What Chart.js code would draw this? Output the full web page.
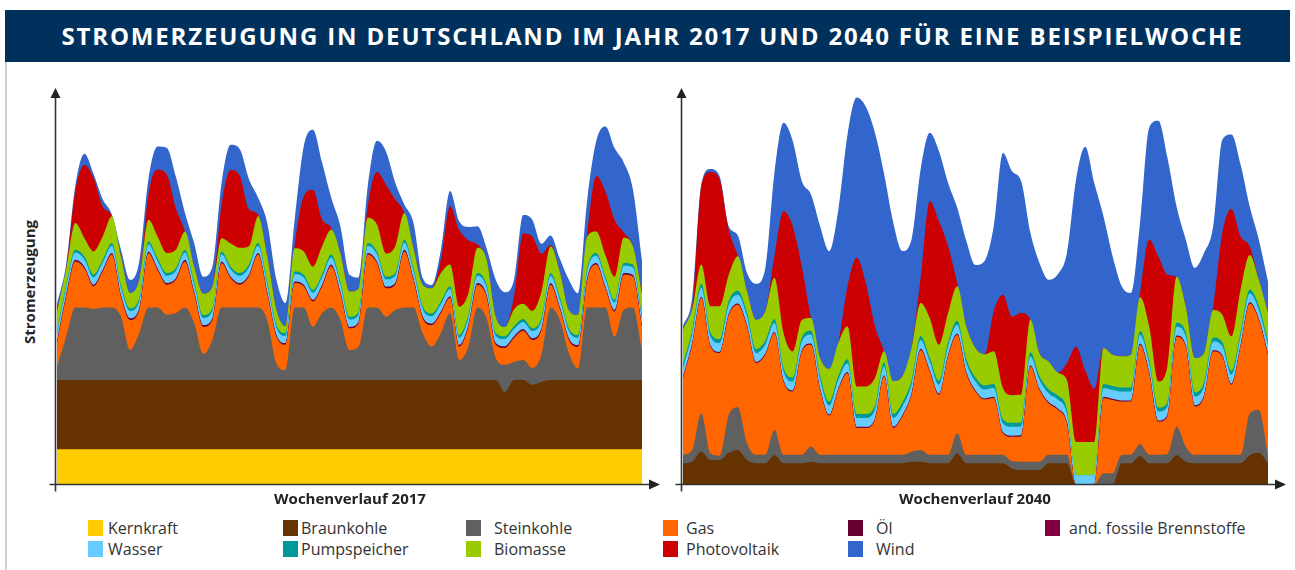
<!DOCTYPE html>
<html lang="de">
<head>
<meta charset="utf-8">
<title>Stromerzeugung in Deutschland 2017 und 2040</title>
<script src="https://cdn.jsdelivr.net/npm/chart.js@4.4.1/dist/chart.umd.min.js"></script>
<style>
  html, body { margin: 0; padding: 0; background: #fff; }
  body { width: 1295px; height: 570px; position: relative; overflow: hidden; font-family: 'Open Sans', sans-serif; }
  #titel { position: absolute; left: 5px; top: 10px; width: 1275px; padding-left: 10px; height: 52px; background: #00315c;
           color: #fff; font-weight: 700; font-size: 24px; letter-spacing: 1.85px; line-height: 52px; text-align: center; }
  #rand { position: absolute; left: 5px; top: 62px; width: 2px; height: 508px; background: #cfcfcf; }
  canvas { position: absolute; }
  #c2017 { left: 40px; top: 80px; }
  #c2040 { left: 666px; top: 80px; }
  .achse { position: absolute; font-weight: 700; font-size: 15px; color: #222; white-space: nowrap; }
  #yTitel { left: 29px; top: 282px; transform: translate(-50%, -50%) rotate(-90deg); }
  #xTitel1 { left: 350px; top: 498px; transform: translate(-50%, -50%); }
  #xTitel2 { left: 975px; top: 498px; transform: translate(-50%, -50%); }
  .lg-box { position: absolute; width: 15px; height: 16px; }
  .lg-text { position: absolute; font-size: 16px; color: #333; line-height: 20px; white-space: nowrap; }
</style>
</head>
<body>
<div id="titel">STROMERZEUGUNG IN DEUTSCHLAND IM JAHR 2017 UND 2040 FÜR EINE BEISPIELWOCHE</div>
<div id="rand"></div>
<canvas id="c2017" width="630" height="415"></canvas>
<canvas id="c2040" width="629" height="415"></canvas>
<div class="achse" id="yTitel">Stromerzeugung</div>
<div class="achse" id="xTitel1">Wochenverlauf 2017</div>
<div class="achse" id="xTitel2">Wochenverlauf 2040</div>
<div id="legende"></div>

<script>
// Zeitachse: alle 3 Stunden
const stunden = [0, 3, 6, 9, 12, 15, 18, 21, 24, 27, 30, 33, 36, 39, 42, 45, 48, 51, 54, 57, 60, 63, 66, 69, 72, 75,
  78, 81, 84, 87, 90, 93, 96, 99, 102, 105, 108, 111, 114, 117, 120, 123, 126, 129, 132, 135, 138, 141, 144, 147,
  150, 153, 156, 159, 162, 165, 168, 171, 174, 177, 180, 183, 186, 189, 192];

const namen = ['Kernkraft', 'Braunkohle', 'Steinkohle', 'Gas', 'Öl', 'and. fossile Brennstoffe',
  'Wasser', 'Pumpspeicher', 'Biomasse', 'Photovoltaik', 'Wind'];
const farben = ['#ffcc00', '#663300', '#606060', '#ff6600', '#660033', '#800040',
  '#66ccff', '#009999', '#99cc00', '#cc0000', '#3366cc'];

// ---- 2017 (GW) ----
const kern2017 = [8.8, 8.8, 8.8, 8.8, 8.8, 8.8, 8.8, 8.8, 8.8, 8.8, 8.8, 8.8, 8.8,
  8.8, 8.8, 8.8, 8.8, 8.8, 8.8, 8.8, 8.8, 8.8, 8.8, 8.8, 8.8, 8.8,
  8.8, 8.8, 8.8, 8.8, 8.8, 8.8, 8.8, 8.8, 8.8, 8.8, 8.8, 8.8, 8.8,
  8.8, 8.8, 8.8, 8.8, 8.8, 8.8, 8.8, 8.8, 8.8, 8.8, 8.8, 8.8, 8.8,
  8.8, 8.8, 8.8, 8.8, 8.8, 8.8, 8.8, 8.8, 8.8, 8.8, 8.8, 8.8, 8.8];
const braun2017 = [17.3, 17.3, 17.3, 17.3, 17.3, 17.3, 17.3, 17.3, 17.3, 17.3, 17.3, 17.3, 17.3,
  17.3, 17.3, 17.3, 17.3, 17.3, 17.3, 17.3, 17.3, 17.3, 17.3, 17.3, 17.3, 17.3,
  17.3, 17.3, 17.3, 17.3, 17.3, 17.3, 17.3, 17.3, 17.3, 17.3, 17.3, 17.3, 17.3,
  17.3, 17.3, 17.3, 17.3, 17.3, 17.3, 17.3, 17.3, 17.3, 17.3, 14.3, 17.3, 17.3,
  16.1, 16.8, 17.3, 17.3, 17.3, 17.3, 17.3, 17.3, 17.3, 17.3, 17.3, 17.3, 17.3];
const stein2017 = [3.3, 10.8, 18.1, 18.1, 17.7, 18.1, 18.1, 15.8, 7.5, 11.7, 18.1, 18.1, 16.3,
  16.7, 18.1, 14.2, 6.5, 10.0, 18.1, 18.1, 18.1, 18.1, 18.1, 15.0, 4.2, 2.5,
  18.1, 18.1, 13.3, 16.7, 18.1, 15.0, 7.5, 8.3, 18.1, 18.1, 15.8, 17.5, 18.1,
  18.1, 11.7, 8.3, 11.7, 16.7, 5.0, 8.3, 18.1, 15.4, 5.5, 6.8, 4.5, 5.0,
  4.2, 6.8, 18.1, 15.0, 6.7, 2.9, 18.1, 18.1, 18.1, 10.8, 17.5, 18.1, 7.5];
const gas2017 = [5.8, 10.0, 11.5, 9.8, 5.7, 9.0, 13.2, 5.0, 7.5, 5.8, 13.6, 9.4, 7.5,
  8.3, 11.5, 7.5, 6.8, 5.0, 11.1, 7.3, 5.7, 7.8, 13.2, 6.7, 6.7, 6.3,
  6.1, 5.3, 6.3, 6.7, 10.3, 6.7, 5.4, 5.8, 13.2, 11.1, 7.1, 6.3, 14.0,
  6.9, 3.8, 5.4, 5.0, 3.8, 3.3, 5.0, 5.7, 5.4, 3.3, 4.2, 6.0, 7.3,
  7.0, 6.2, 5.7, 2.9, 3.3, 5.4, 6.9, 10.7, 4.8, 6.3, 8.8, 7.8, 5.8];
const oel2017 = [0.2, 0.2, 0.2, 0.2, 0.2, 0.2, 0.2, 0.2, 0.2, 0.2, 0.2, 0.2, 0.2,
  0.2, 0.2, 0.2, 0.2, 0.2, 0.2, 0.2, 0.2, 0.2, 0.2, 0.2, 0.2, 0.2,
  0.2, 0.2, 0.2, 0.2, 0.2, 0.2, 0.2, 0.2, 0.2, 0.2, 0.2, 0.2, 0.2,
  0.2, 0.2, 0.2, 0.2, 0.2, 0.2, 0.2, 0.2, 0.2, 0.2, 0.2, 0.2, 0.2,
  0.2, 0.2, 0.2, 0.2, 0.2, 0.2, 0.2, 0.2, 0.2, 0.2, 0.2, 0.2, 0.2];
const fossil2017 = [0.2, 0.2, 0.2, 0.2, 0.2, 0.2, 0.2, 0.2, 0.2, 0.2, 0.2, 0.2, 0.2,
  0.2, 0.2, 0.2, 0.2, 0.2, 0.2, 0.2, 0.2, 0.2, 0.2, 0.2, 0.2, 0.2,
  0.2, 0.2, 0.2, 0.2, 0.2, 0.2, 0.2, 0.2, 0.2, 0.2, 0.2, 0.2, 0.2,
  0.2, 0.2, 0.2, 0.2, 0.2, 0.2, 0.2, 0.2, 0.2, 0.2, 0.2, 0.2, 0.2,
  0.2, 0.2, 0.2, 0.2, 0.2, 0.2, 0.2, 0.2, 0.2, 0.2, 0.2, 0.2, 0.2];
const wasser2017 = [1.8, 1.8, 1.8, 1.8, 1.8, 1.8, 1.8, 1.8, 1.8, 1.8, 1.8, 1.8, 1.8,
  1.8, 1.8, 1.8, 1.8, 1.8, 1.8, 1.8, 1.8, 1.8, 1.8, 1.8, 1.8, 1.8,
  1.8, 1.8, 1.8, 1.8, 1.8, 1.8, 1.8, 1.8, 1.8, 1.8, 1.8, 1.8, 1.8,
  1.8, 1.8, 1.8, 1.8, 1.8, 1.8, 1.8, 1.8, 1.8, 1.8, 1.8, 1.8, 1.8,
  1.8, 1.8, 1.8, 1.8, 1.8, 1.8, 1.8, 1.8, 1.8, 1.8, 1.8, 1.8, 1.8];
const pump2017 = [0.7, 0.7, 0.7, 0.7, 0.7, 0.7, 0.7, 0.7, 0.7, 0.7, 0.7, 0.7, 0.7,
  0.7, 0.7, 0.7, 0.7, 0.7, 0.7, 0.7, 0.7, 0.7, 0.7, 0.7, 0.7, 0.7,
  0.7, 0.7, 0.7, 0.7, 0.7, 0.7, 0.7, 0.7, 0.7, 0.7, 0.7, 0.7, 0.7,
  0.7, 0.7, 0.7, 0.7, 0.7, 0.7, 0.7, 0.7, 0.7, 0.7, 0.7, 0.7, 0.7,
  0.7, 0.7, 0.7, 0.7, 0.7, 0.7, 0.7, 0.7, 0.7, 0.7, 0.7, 0.7, 0.7];
const bio2017 = [5.0, 3.8, 6.7, 4.6, 5.8, 5.8, 6.7, 7.1, 3.8, 4.6, 5.4, 5.4, 5.0,
  4.6, 4.6, 3.8, 5.4, 5.4, 3.3, 5.8, 6.3, 4.6, 6.7, 6.3, 3.8, 1.7,
  5.8, 5.8, 5.8, 7.1, 6.3, 7.1, 6.3, 5.8, 6.3, 6.7, 5.8, 6.7, 6.7,
  5.0, 5.4, 6.3, 7.1, 5.4, 7.1, 5.4, 6.3, 6.3, 4.1, 2.3, 4.2, 3.8,
  4.3, 6.6, 6.7, 6.3, 4.6, 5.0, 7.9, 5.4, 5.4, 5.8, 6.3, 4.6, 5.4];
const pv2017 = [0, 0, 7.9, 18.3, 18.3, 7.5, 0, 0, 0, 0, 6.3, 16.7, 19.6,
  10.4, 0, 0, 0, 0, 8.3, 18.3, 17.9, 9.2, 0.4, 0, 0, 0,
  0.8, 13.8, 19.2, 6.7, 0.4, 0, 0, 0, 2.9, 13.1, 17.1, 11.7, 0,
  0, 0, 0, 3.3, 14.6, 19.2, 13.3, 0.8, 0, 0, 0, 3.3, 17.6,
  18.6, 9.5, 0.3, 0, 0, 0, 0.8, 13.8, 15.8, 14.2, 1.3, 0, 0];
const wind2017 = [1.9, 1.3, 1.3, 2.8, 1.0, 1.8, 0.4, 1.7, 3.3, 4.6, 3.8, 5.8, 6.7,
  7.9, 4.6, 5.8, 4.2, 5.0, 5.4, 6.3, 6.7, 7.5, 4.2, 8.3, 7.5, 5.8,
  6.3, 12.5, 15.0, 14.2, 7.5, 6.7, 4.2, 2.8, 5.0, 7.8, 8.3, 4.2, 2.1,
  6.3, 1.7, 0.8, 2.5, 3.8, 2.1, 3.3, 4.6, 2.9, 9.2, 8.7, 4.2, 4.6,
  4.2, 2.5, 2.4, 3.3, 7.5, 5.4, 8.3, 8.8, 16.3, 17.9, 17.5, 14.2, 8.3];

// ---- 2040 (GW) ----
const kern2040 = [0, 0, 0, 0, 0, 0, 0, 0, 0, 0, 0, 0, 0,
  0, 0, 0, 0, 0, 0, 0, 0, 0, 0, 0, 0, 0,
  0, 0, 0, 0, 0, 0, 0, 0, 0, 0, 0, 0, 0,
  0, 0, 0, 0, 0, 0, 0, 0, 0, 0, 0, 0, 0,
  0, 0, 0, 0, 0, 0, 0, 0, 0, 0, 0, 0, 0];
const braun2040 = [5.3, 5.7, 8.2, 6.1, 6.1, 7.9, 8.6, 6.1, 5.3, 5.3, 7.3, 5.3, 5.3,
  5.3, 5.7, 5.3, 5.3, 5.3, 5.3, 5.3, 5.3, 5.3, 5.3, 5.3, 5.3, 5.7,
  5.7, 5.3, 5.3, 5.3, 7.8, 5.3, 5.3, 5.3, 5.3, 5.3, 4.0, 3.6, 3.6,
  3.6, 5.3, 5.3, 5.3, 0, 0, 0, 0, 0, 5.3, 5.3, 7.1, 5.3,
  5.3, 5.3, 7.3, 5.7, 5.3, 5.3, 5.3, 5.3, 5.3, 5.3, 7.3, 7.9, 5.3];
const stein2040 = [2.1, 2.9, 9.6, 1.7, 1.1, 9.4, 10.7, 4.2, 2.1, 2.1, 6.3, 2.1, 2.1,
  2.1, 3.8, 2.1, 2.1, 2.1, 2.1, 2.1, 2.1, 2.1, 2.1, 2.1, 2.1, 2.5,
  2.9, 2.1, 2.1, 2.1, 5.0, 2.1, 2.1, 2.1, 2.1, 2.1, 1.8, 2.1, 2.1,
  2.1, 2.1, 2.1, 2.1, 0, 0, 0, 2.8, 2.8, 2.1, 2.1, 3.0, 2.1,
  2.1, 2.3, 7.1, 3.8, 2.1, 2.1, 2.1, 2.1, 2.1, 2.1, 10.4, 10.7, 2.1];
const gas2040 = [19.2, 26.3, 28.8, 26.7, 25.6, 25.0, 25.6, 29.2, 22.9, 25.0, 24.2, 18.3, 15.8,
  25.8, 25.4, 16.3, 9.8, 16.3, 20.4, 6.7, 6.7, 8.8, 19.6, 6.7, 9.6, 14.2,
  25.0, 20.8, 15.0, 24.6, 24.6, 20.4, 15.8, 13.8, 14.2, 5.4, 6.1, 6.3, 23.8,
  17.9, 12.9, 11.3, 7.9, 0, 0, 0, 18.8, 18.3, 13.3, 13.3, 24.8, 20.4,
  8.3, 9.4, 22.5, 25.0, 12.1, 14.6, 25.8, 24.6, 17.5, 27.1, 27.5, 22.5, 25.0];
const oel2040 = [0.15, 0.15, 0.15, 0.15, 0.15, 0.15, 0.15, 0.15, 0.15, 0.15, 0.15, 0.15, 0.15,
  0.15, 0.15, 0.15, 0.15, 0.15, 0.15, 0.15, 0.15, 0.15, 0.15, 0.15, 0.15, 0.15,
  0.15, 0.15, 0.15, 0.15, 0.15, 0.15, 0.15, 0.15, 0.15, 0.15, 0.15, 0.15, 0.15,
  0.15, 0.15, 0.15, 0.15, 0, 0, 0, 0.15, 0.15, 0.15, 0.15, 0.15, 0.15,
  0.15, 0.15, 0.15, 0.15, 0.15, 0.15, 0.15, 0.15, 0.15, 0.15, 0.15, 0.15, 0.15];
const fossil2040 = [0.15, 0.15, 0.15, 0.15, 0.15, 0.15, 0.15, 0.15, 0.15, 0.15, 0.15, 0.15, 0.15,
  0.15, 0.15, 0.15, 0.15, 0.15, 0.15, 0.15, 0.15, 0.15, 0.15, 0.15, 0.15, 0.15,
  0.15, 0.15, 0.15, 0.15, 0.15, 0.15, 0.15, 0.15, 0.15, 0.15, 0.15, 0.15, 0.15,
  0.15, 0.15, 0.15, 0.15, 0, 0, 0, 0.15, 0.15, 0.15, 0.15, 0.15, 0.15,
  0.15, 0.15, 0.15, 0.15, 0.15, 0.15, 0.15, 0.15, 0.15, 0.15, 0.15, 0.15, 0.15];
const wasser2040 = [2.2, 2.2, 2.2, 2.2, 2.2, 2.2, 2.2, 2.2, 2.2, 2.2, 2.2, 2.2, 2.2,
  2.2, 2.2, 2.2, 2.2, 2.2, 2.2, 2.2, 2.2, 2.2, 2.2, 2.2, 2.2, 2.2,
  2.2, 2.2, 2.2, 2.2, 2.2, 2.2, 2.2, 2.2, 2.2, 2.2, 2.2, 2.2, 2.2,
  2.2, 2.2, 2.2, 2.2, 2.3, 2.3, 2.3, 2.2, 2.2, 2.2, 2.2, 2.2, 2.2,
  2.2, 2.2, 2.2, 2.2, 2.2, 2.2, 2.2, 2.2, 2.2, 2.2, 2.2, 2.2, 2.2];
const pump2040 = [1.0, 1.0, 1.0, 1.0, 1.0, 1.0, 1.0, 1.0, 1.0, 1.0, 1.0, 1.0, 1.0,
  1.0, 1.0, 1.0, 1.0, 1.0, 1.0, 1.0, 1.0, 1.0, 1.0, 1.0, 1.0, 1.0,
  1.0, 1.0, 1.0, 1.0, 1.0, 1.0, 1.0, 1.0, 1.0, 1.0, 1.0, 1.0, 1.0,
  1.0, 1.0, 1.0, 1.0, 0, 0, 0, 1.0, 1.0, 1.0, 1.0, 1.0, 1.0,
  1.0, 1.0, 1.0, 1.0, 1.0, 1.0, 1.0, 1.0, 1.0, 1.0, 1.0, 1.0, 1.0];
const bio2040 = [8.6, 5.3, 4.8, 6.5, 8.2, 6.5, 8.6, 5.3, 7.3, 7.3, 10.3, 8.6, 6.5,
  4.4, 3.2, 4.4, 8.2, 8.2, 8.2, 6.9, 6.9, 6.9, 2.8, 8.2, 6.5, 8.2,
  8.2, 9.8, 9.0, 7.3, 8.6, 8.2, 7.3, 7.8, 8.2, 7.8, 6.9, 6.9, 8.2,
  5.7, 6.9, 5.7, 7.3, 8.3, 8.3, 8.3, 9.0, 7.8, 7.8, 8.2, 8.4, 8.2,
  6.5, 9.0, 11.5, 6.5, 8.6, 7.3, 6.9, 6.9, 8.6, 10.7, 8.6, 6.5, 6.9];
const pv2040 = [0, 0, 19.6, 33.5, 31.7, 11.4, 0, 0, 0, 0, 5.4, 30.4, 31.3,
  13.3, 0, 0, 0, 0, 10.0, 32.1, 25.8, 12.9, 0, 0, 0, 0,
  6.3, 29.2, 30.8, 16.7, 0.8, 0, 0, 0, 10.0, 23.3, 19.6, 20.4, 0,
  0, 0, 0, 4.2, 23.8, 17.9, 13.3, 0, 0, 0, 0, 1.0, 21.7,
  31.3, 22.9, 0, 0, 0, 0, 0.8, 20.4, 31.8, 13.3, 2.1, 0, 0];
const wind2040 = [0.8, 2.9, 0.4, 0.8, 0.8, 0.8, 5.2, 4.6, 9.0, 10.8, 20.8, 22.1, 21.3,
  21.3, 30.8, 32.9, 29.4, 33.3, 37.9, 40.0, 44.0, 48.3, 44.2, 39.6, 31.3, 27.1,
  27.1, 17.1, 17.5, 15.8, 18.8, 21.3, 20.8, 23.3, 21.3, 35.4, 36.3, 32.9, 21.7,
  22.5, 20.4, 24.6, 27.5, 41.7, 55.8, 51.3, 32.9, 24.6, 17.5, 15.4, 17.5, 27.9,
  33.8, 29.2, 17.5, 16.7, 22.5, 25.0, 20.0, 23.3, 18.6, 17.9, 10.0, 10.0, 7.8];

// Achsen mit Pfeilspitzen
const achsenPfeile = {
  id: 'achsenPfeile',
  afterDraw(chart) {
    const { ctx, chartArea: a } = chart;
    const x0 = a.left - 1.5, y0 = a.bottom;
    ctx.save();
    ctx.strokeStyle = '#333';
    ctx.fillStyle = '#222';
    ctx.lineWidth = 1.6;
    ctx.beginPath();
    ctx.moveTo(x0, y0 + 7); ctx.lineTo(x0, a.top + 6);
    ctx.moveTo(x0 - 6, y0); ctx.lineTo(a.right + 9, y0);
    ctx.stroke();
    ctx.beginPath();
    ctx.moveTo(x0, a.top); ctx.lineTo(x0 - 5, a.top + 10); ctx.lineTo(x0 + 5, a.top + 10); ctx.closePath();
    ctx.moveTo(a.right + 18, y0); ctx.lineTo(a.right + 7, y0 - 5); ctx.lineTo(a.right + 7, y0 + 5); ctx.closePath();
    ctx.fill();
    ctx.restore();
  }
};

function stapel(canvasId, reihen, padRight) {
  return new Chart(document.getElementById(canvasId), {
    type: 'line',
    data: {
      labels: stunden,
      // untere Reihen werden zuletzt gezeichnet und decken die oberen ab
      datasets: reihen.map((werte, k) => ({
        label: namen[k],
        data: werte,
        backgroundColor: farben[k],
        borderWidth: 0,
        pointRadius: 0,
        fill: 'origin',
        cubicInterpolationMode: 'monotone'
      }))
    },
    options: {
      responsive: false,
      animation: false,
      devicePixelRatio: 1,
      layout: { padding: { left: 17, right: padRight, top: 8, bottom: 10.5 } },
      scales: {
        x: { display: false },
        y: { display: false, stacked: true, min: 0, max: 99 }
      },
      plugins: { legend: { display: false }, tooltip: { enabled: false } }
    },
    plugins: [achsenPfeile]
  });
}

stapel('c2017', [kern2017, braun2017, stein2017, gas2017, oel2017, fossil2017,
  wasser2017, pump2017, bio2017, pv2017, wind2017], 28);
stapel('c2040', [kern2040, braun2040, stein2040, gas2040, oel2040, fossil2040,
  wasser2040, pump2040, bio2040, pv2040, wind2040], 27);

// Legende in zwei Zeilen
const boxX = [88, 283, 466, 663, 848, 1045];
const textX = [108, 301, 494, 686, 876, 1069];
const zeileY = [520, 541];
const legende = document.getElementById('legende');
namen.forEach((name, k) => {
  const spalte = k < 6 ? k : k - 6;
  const zeile = k < 6 ? 0 : 1;
  const box = document.createElement('div');
  box.className = 'lg-box';
  box.style.left = boxX[spalte] + 'px';
  box.style.top = zeileY[zeile] + 'px';
  box.style.background = farben[k];
  legende.appendChild(box);
  const txt = document.createElement('div');
  txt.className = 'lg-text';
  txt.style.left = textX[spalte] + 'px';
  txt.style.top = (zeileY[zeile] - 2) + 'px';
  txt.textContent = name;
  legende.appendChild(txt);
});
</script>
</body>
</html>
